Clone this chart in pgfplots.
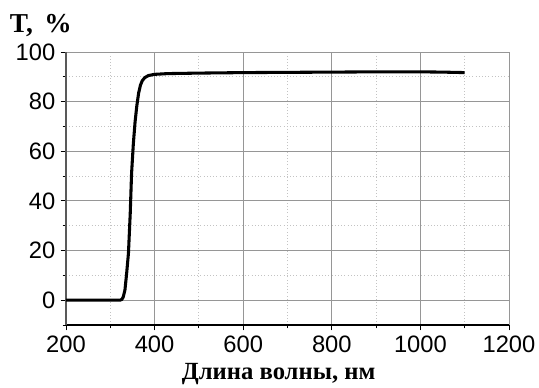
\documentclass[border=0pt]{standalone}
\usepackage{fontspec}
\setmainfont{Liberation Serif}
\newfontfamily\arial{Liberation Sans}
\usepackage{pgfplots}
\pgfplotsset{compat=1.18}
\usetikzlibrary{calc}
\definecolor{majgrid}{RGB}{150,150,150}
\definecolor{mingrid}{RGB}{195,195,195}
\begin{document}
\begin{tikzpicture}
\begin{axis}[
  scale only axis,
  width=332.25pt, height=204.75pt,
  xmin=200, xmax=1200, ymin=-10, ymax=100,
  xtick={200,400,...,1200}, ytick={0,20,...,100},
  minor xtick={300,500,...,1100}, minor ytick={-10,10,30,...,90},
  axis lines*=left,
  axis line style={line width=0.8pt, -},
  x axis line style={black},
  y axis line style={black!65},
  tick align=outside,
  major tick length=4pt, minor tick length=2.5pt,
  tick style={black, line width=0.7pt},
  grid=both,
  major grid style={majgrid, line width=0.7pt},
  minor grid style={mingrid, dotted, line width=0.7pt},
  /pgf/number format/assume math mode=true,
  /pgf/number format/1000 sep={},
  ticklabel style={font=\arial\fontsize{17.8}{19}\selectfont},
  xticklabel style={yshift=-1pt},
  yticklabel style={xshift=-0.5pt},
  xlabel={\bfseries Длина волны, нм},
  xlabel style={font=\fontsize{18.5}{20}\selectfont, at={(rel axis cs:0.48,0)}, anchor=base, yshift=-41pt, inner sep=0pt},
  clip=false,
]
\addplot[black, line width=2.3pt, line join=round] coordinates {
(200,0) (322,0) (326,0.3) (329,1.2) (333,4) (337,11) (341,19) (345,35) (348,51)
(352,63) (356,72) (360,78.5) (364,83.5) (368,86.6) (372,88.4) (378,89.7)
(386,90.5) (400,91.0) (430,91.3) (500,91.5) (600,91.7) (700,91.8) (800,91.9)
(900,92.0) (1000,92.0) (1050,91.9) (1100,91.7)
};
\coordinate (bl) at (rel axis cs:0,0);
\coordinate (tl) at (rel axis cs:0,1);
\end{axis}
\node[anchor=base east, font=\bfseries\fontsize{20.5}{22}\selectfont, inner sep=0pt] at ($(tl)+(4.5pt,15pt)$) {T,\, \%};
\pgfresetboundingbox
\path ($(bl)+(-49.5pt,-46.5pt)$) rectangle ++(404.25pt,290.25pt);
\end{tikzpicture}
\end{document}
